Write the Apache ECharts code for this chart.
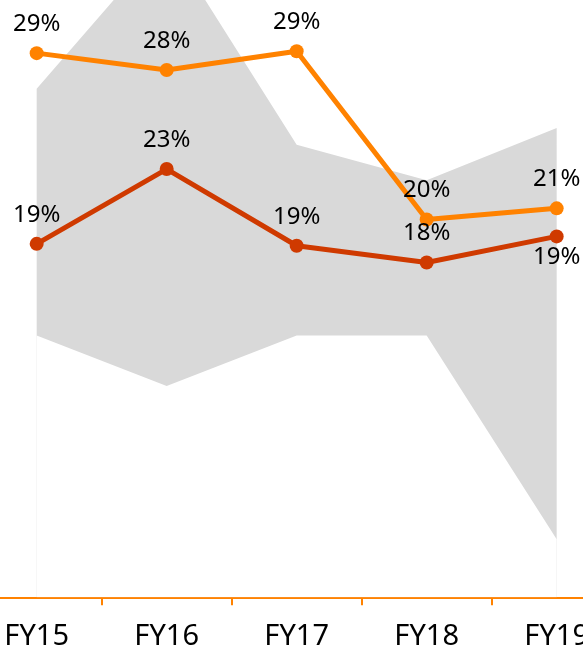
<!DOCTYPE html>
<html>
<head>
<meta charset="utf-8">
<script src="https://cdn.jsdelivr.net/npm/echarts@6/dist/echarts.min.js"></script>
<style>
  html, body { margin: 0; padding: 0; background: #fff; width: 583px; height: 648px; overflow: hidden; }
  /* the plot area is wider and taller than the page, so the stage is shifted and cropped */
  #chart { position: absolute; left: -40px; top: -80px; width: 663px; height: 728px; }
</style>
</head>
<body>
<div id="chart"></div>
<script>
// Fiscal years on the category axis
const categories = ['FY15', 'FY16', 'FY17', 'FY18', 'FY19'];
// Two company series, in percent
const orangeValues = [29.1, 28.2, 29.2, 20.2, 20.8];
const redValues = [18.9, 22.9, 18.8, 17.9, 19.3];
// Peer range (upper and lower bound), in percent
const rangeHigh = [27.2, 35.2, 24.2, 22.3, 25.1];
const rangeLow = [14.0, 11.3, 14.0, 14.0, 3.1];

const ORANGE = '#ff8200';
const RED = '#cf3a00';
const GRAY = '#d9d9d9';
const FONT = '"Noto Sans", "Open Sans", sans-serif';

const pct = p => Math.round(p.value) + '%';

function lineSeries(name, values, color, belowIdx) {
  return {
    name: name,
    type: 'line',
    data: values.map((v, i) => i === belowIdx
      ? { value: v, label: { position: 'bottom', distance: 2 } }
      : v),
    symbol: 'circle',
    symbolSize: 14,
    lineStyle: { color: color, width: 5 },
    itemStyle: { color: color },
    label: {
      show: true,
      position: 'top',
      distance: 10,
      formatter: pct,
      color: '#000',
      fontFamily: FONT,
      fontSize: 24
    },
    z: 5
  };
}

const chart = echarts.init(document.getElementById('chart'), null, { renderer: 'canvas' });
chart.setOption({
  animation: false,
  backgroundColor: '#fff',
  grid: {
    left: 11.67, width: 650, top: 4.1, bottom: 50.7,
    containLabel: false,
    outerBoundsMode: 'none'
  },
  xAxis: {
    type: 'category',
    data: categories,
    boundaryGap: true,
    axisLine: { show: true, lineStyle: { color: ORANGE, width: 2 } },
    axisTick: { show: true, length: 8, lineStyle: { color: ORANGE, width: 2 } },
    axisLabel: { color: '#000', fontFamily: FONT, fontSize: 29, margin: 25 },
    splitLine: { show: false }
  },
  yAxis: {
    type: 'value',
    min: 0,
    max: 36,
    show: false,
    splitLine: { show: false }
  },
  series: [
    {
      name: 'range high',
      type: 'line',
      data: rangeHigh,
      symbol: 'none',
      lineStyle: { width: 0 },
      areaStyle: { color: GRAY, opacity: 1 },
      silent: true,
      z: 1
    },
    {
      name: 'range low',
      type: 'line',
      data: rangeLow,
      symbol: 'none',
      lineStyle: { width: 0 },
      areaStyle: { color: '#fff', opacity: 1 },
      silent: true,
      z: 2
    },
    lineSeries('orange', orangeValues, ORANGE, -1),
    lineSeries('red', redValues, RED, 4)
  ]
});
</script>
</body>
</html>
